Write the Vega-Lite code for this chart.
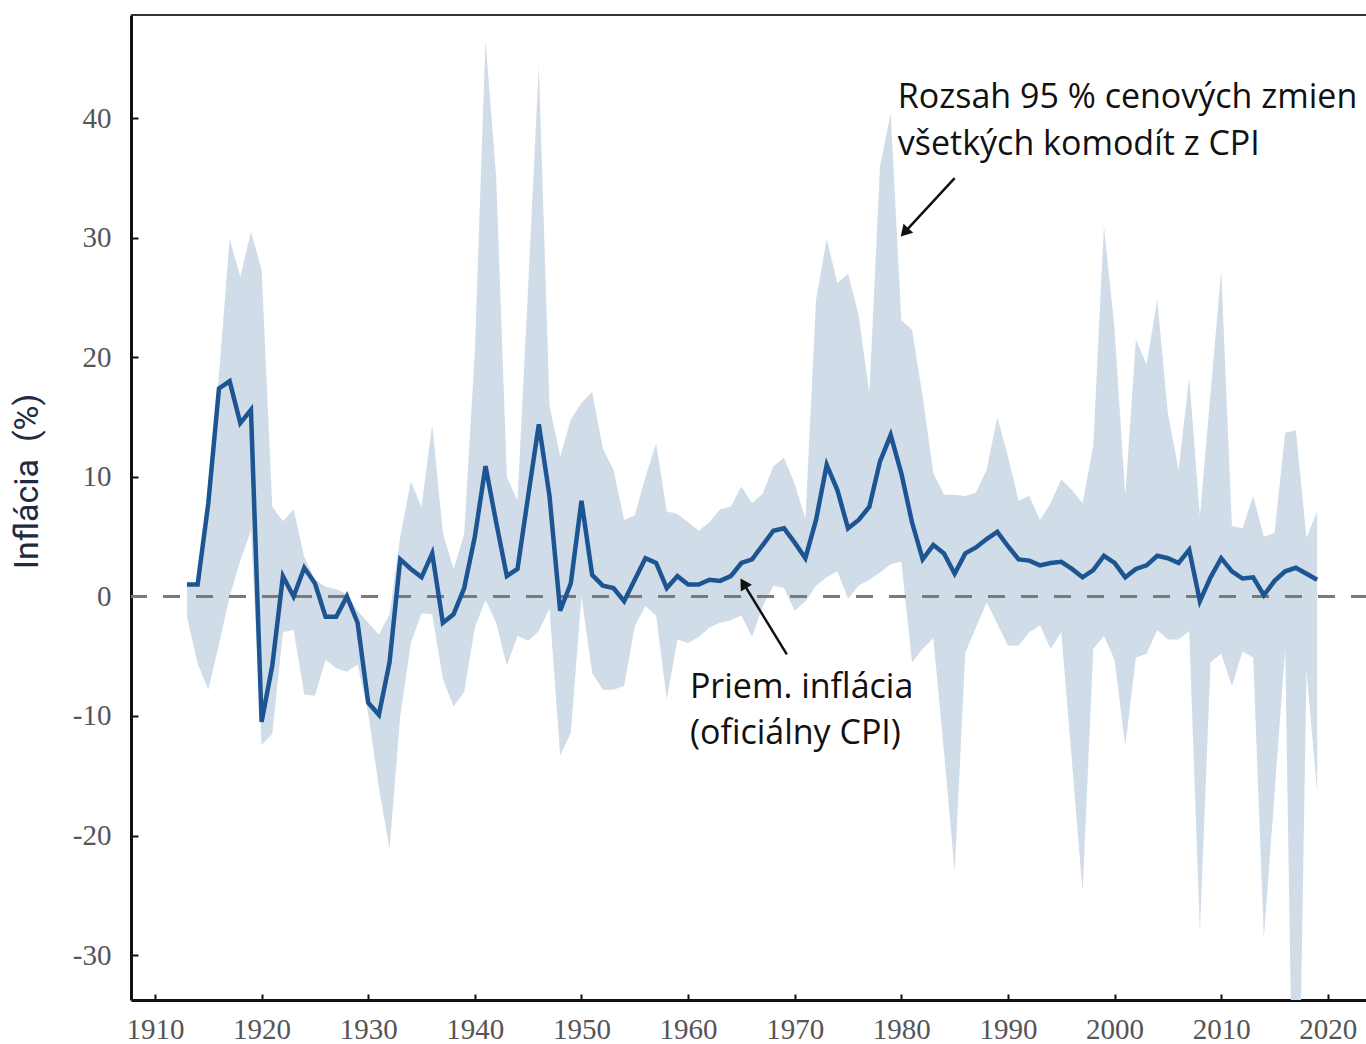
{
  "$schema": "https://vega.github.io/schema/vega-lite/v6.json",
  "width": 1235,
  "height": 985,
  "autosize": {"type": "none"},
  "padding": {"left": 131, "top": 15, "right": 0, "bottom": 44},
  "background": "white",
  "config": {"view": {"stroke": null}},
  "datasets": {
    "series": [
      {"year": 1913, "cpi": 1.0, "lo": -1.7, "hi": 1.0},
      {"year": 1914, "cpi": 1.0, "lo": -5.6, "hi": 1.2},
      {"year": 1915, "cpi": 7.8, "lo": -7.8, "hi": 7.0},
      {"year": 1916, "cpi": 17.4, "lo": -4.0, "hi": 18.5},
      {"year": 1917, "cpi": 18.0, "lo": 0.0, "hi": 29.9},
      {"year": 1918, "cpi": 14.5, "lo": 3.0, "hi": 26.7},
      {"year": 1919, "cpi": 15.6, "lo": 5.5, "hi": 30.5},
      {"year": 1920, "cpi": -10.5, "lo": -12.4, "hi": 27.3},
      {"year": 1921, "cpi": -5.8, "lo": -11.5, "hi": 7.5},
      {"year": 1922, "cpi": 1.7, "lo": -3.0, "hi": 6.3},
      {"year": 1923, "cpi": 0.0, "lo": -2.8, "hi": 7.3},
      {"year": 1924, "cpi": 2.4, "lo": -8.2, "hi": 3.3},
      {"year": 1925, "cpi": 1.1, "lo": -8.3, "hi": 1.4},
      {"year": 1926, "cpi": -1.7, "lo": -5.3, "hi": 0.8},
      {"year": 1927, "cpi": -1.7, "lo": -6.0, "hi": 0.6},
      {"year": 1928, "cpi": 0.0, "lo": -6.3, "hi": 0.2},
      {"year": 1929, "cpi": -2.2, "lo": -5.7, "hi": -1.2},
      {"year": 1930, "cpi": -8.9, "lo": -9.8, "hi": -2.2},
      {"year": 1931, "cpi": -9.9, "lo": -16.0, "hi": -3.2},
      {"year": 1932, "cpi": -5.5, "lo": -21.1, "hi": -1.5},
      {"year": 1933, "cpi": 3.1, "lo": -10.0, "hi": 5.0},
      {"year": 1934, "cpi": 2.3, "lo": -3.9, "hi": 9.6},
      {"year": 1935, "cpi": 1.6, "lo": -1.4, "hi": 7.5},
      {"year": 1936, "cpi": 3.6, "lo": -1.5, "hi": 14.4},
      {"year": 1937, "cpi": -2.2, "lo": -6.9, "hi": 5.3},
      {"year": 1938, "cpi": -1.5, "lo": -9.2, "hi": 2.3},
      {"year": 1939, "cpi": 0.7, "lo": -8.0, "hi": 5.2},
      {"year": 1940, "cpi": 5.0, "lo": -2.6, "hi": 20.5},
      {"year": 1941, "cpi": 10.9, "lo": -0.3, "hi": 46.5},
      {"year": 1942, "cpi": 6.2, "lo": -2.2, "hi": 35.1},
      {"year": 1943, "cpi": 1.7, "lo": -5.8, "hi": 10.0},
      {"year": 1944, "cpi": 2.3, "lo": -3.3, "hi": 8.0},
      {"year": 1945, "cpi": 8.4, "lo": -3.7, "hi": 26.0},
      {"year": 1946, "cpi": 14.4, "lo": -2.9, "hi": 44.4},
      {"year": 1947, "cpi": 8.4, "lo": -1.0, "hi": 16.0},
      {"year": 1948, "cpi": -1.2, "lo": -13.3, "hi": 11.7},
      {"year": 1949, "cpi": 1.1, "lo": -11.4, "hi": 14.8},
      {"year": 1950, "cpi": 8.0, "lo": 0.0, "hi": 16.2},
      {"year": 1951, "cpi": 1.8, "lo": -6.4, "hi": 17.1},
      {"year": 1952, "cpi": 0.9, "lo": -7.8, "hi": 12.4},
      {"year": 1953, "cpi": 0.7, "lo": -7.8, "hi": 10.6},
      {"year": 1954, "cpi": -0.4, "lo": -7.5, "hi": 6.4},
      {"year": 1955, "cpi": 1.4, "lo": -2.5, "hi": 6.8},
      {"year": 1956, "cpi": 3.2, "lo": -0.8, "hi": 10.0},
      {"year": 1957, "cpi": 2.8, "lo": -1.6, "hi": 12.8},
      {"year": 1958, "cpi": 0.7, "lo": -8.6, "hi": 7.1},
      {"year": 1959, "cpi": 1.7, "lo": -3.6, "hi": 6.9},
      {"year": 1960, "cpi": 1.0, "lo": -3.9, "hi": 6.2},
      {"year": 1961, "cpi": 1.0, "lo": -3.4, "hi": 5.5},
      {"year": 1962, "cpi": 1.4, "lo": -2.6, "hi": 6.2},
      {"year": 1963, "cpi": 1.3, "lo": -2.2, "hi": 7.3},
      {"year": 1964, "cpi": 1.7, "lo": -2.0, "hi": 7.5},
      {"year": 1965, "cpi": 2.8, "lo": -1.6, "hi": 9.2},
      {"year": 1966, "cpi": 3.1, "lo": -3.4, "hi": 7.8},
      {"year": 1967, "cpi": 4.3, "lo": -0.8, "hi": 8.6},
      {"year": 1968, "cpi": 5.5, "lo": 0.9, "hi": 10.9},
      {"year": 1969, "cpi": 5.7, "lo": 0.7, "hi": 11.6},
      {"year": 1970, "cpi": 4.5, "lo": -1.2, "hi": 9.4},
      {"year": 1971, "cpi": 3.2, "lo": -0.4, "hi": 6.5},
      {"year": 1972, "cpi": 6.4, "lo": 0.9, "hi": 24.8},
      {"year": 1973, "cpi": 11.0, "lo": 1.6, "hi": 29.9},
      {"year": 1974, "cpi": 8.9, "lo": 2.1, "hi": 26.2},
      {"year": 1975, "cpi": 5.7, "lo": -0.2, "hi": 27.0},
      {"year": 1976, "cpi": 6.4, "lo": 0.9, "hi": 23.5},
      {"year": 1977, "cpi": 7.5, "lo": 1.4, "hi": 17.0},
      {"year": 1978, "cpi": 11.3, "lo": 2.0, "hi": 36.0},
      {"year": 1979, "cpi": 13.5, "lo": 2.7, "hi": 40.4},
      {"year": 1980, "cpi": 10.3, "lo": 2.9, "hi": 23.1},
      {"year": 1981, "cpi": 6.2, "lo": -5.5, "hi": 22.3},
      {"year": 1982, "cpi": 3.1, "lo": -4.4, "hi": 16.7},
      {"year": 1983, "cpi": 4.3, "lo": -3.5, "hi": 10.3},
      {"year": 1984, "cpi": 3.6, "lo": -13.0, "hi": 8.5},
      {"year": 1985, "cpi": 1.9, "lo": -23.0, "hi": 8.5},
      {"year": 1986, "cpi": 3.6, "lo": -4.7, "hi": 8.4},
      {"year": 1987, "cpi": 4.1, "lo": -2.6, "hi": 8.7},
      {"year": 1988, "cpi": 4.8, "lo": -0.5, "hi": 10.6},
      {"year": 1989, "cpi": 5.4, "lo": -2.3, "hi": 15.0},
      {"year": 1990, "cpi": 4.2, "lo": -4.1, "hi": 11.7},
      {"year": 1991, "cpi": 3.1, "lo": -4.1, "hi": 8.0},
      {"year": 1992, "cpi": 3.0, "lo": -3.0, "hi": 8.4},
      {"year": 1993, "cpi": 2.6, "lo": -2.4, "hi": 6.4},
      {"year": 1994, "cpi": 2.8, "lo": -4.4, "hi": 7.8},
      {"year": 1995, "cpi": 2.9, "lo": -3.0, "hi": 9.8},
      {"year": 1996, "cpi": 2.3, "lo": -13.8, "hi": 8.9},
      {"year": 1997, "cpi": 1.6, "lo": -24.7, "hi": 7.8},
      {"year": 1998, "cpi": 2.2, "lo": -4.4, "hi": 12.6},
      {"year": 1999, "cpi": 3.4, "lo": -3.3, "hi": 31.0},
      {"year": 2000, "cpi": 2.8, "lo": -5.3, "hi": 22.3},
      {"year": 2001, "cpi": 1.6, "lo": -12.5, "hi": 8.4},
      {"year": 2002, "cpi": 2.3, "lo": -5.1, "hi": 21.5},
      {"year": 2003, "cpi": 2.6, "lo": -4.8, "hi": 19.4},
      {"year": 2004, "cpi": 3.4, "lo": -2.8, "hi": 24.8},
      {"year": 2005, "cpi": 3.2, "lo": -3.6, "hi": 15.3},
      {"year": 2006, "cpi": 2.8, "lo": -3.6, "hi": 10.6},
      {"year": 2007, "cpi": 3.9, "lo": -2.9, "hi": 18.3},
      {"year": 2008, "cpi": -0.4, "lo": -28.1, "hi": 6.7},
      {"year": 2009, "cpi": 1.6, "lo": -5.5, "hi": 17.0},
      {"year": 2010, "cpi": 3.2, "lo": -4.8, "hi": 27.3},
      {"year": 2011, "cpi": 2.1, "lo": -7.5, "hi": 5.9},
      {"year": 2012, "cpi": 1.5, "lo": -4.6, "hi": 5.7},
      {"year": 2013, "cpi": 1.6, "lo": -5.1, "hi": 8.4},
      {"year": 2014, "cpi": 0.1, "lo": -28.6, "hi": 5.0},
      {"year": 2015, "cpi": 1.3, "lo": -16.5, "hi": 5.3},
      {"year": 2016, "cpi": 2.1, "lo": -4.4, "hi": 13.7},
      {"year": 2017, "cpi": 2.4, "lo": -60.0, "hi": 13.9},
      {"year": 2018, "cpi": 1.9, "lo": -6.2, "hi": 4.9},
      {"year": 2019, "cpi": 1.4, "lo": -16.4, "hi": 7.1}
    ],
    "arrows": [
      {"id": 1, "x1": 1985.0, "y1": 35.0, "x2": 1980.3, "y2": 30.45},
      {"id": 2, "x1": 1969.26, "y1": -4.85, "x2": 1965.19, "y2": 1.09}
    ],
    "notes": [
      {"year": 1979.67, "value": 40.89, "label": "Rozsah 95 % cenových zmien"},
      {"year": 1979.67, "value": 36.96, "label": "všetkých komodít z CPI"},
      {"year": 1960.17, "value": -8.47, "label": "Priem. inflácia"},
      {"year": 1960.17, "value": -12.37, "label": "(oficiálny CPI)"}
    ],
    "refs": [
      {"zero": 0, "top": 48.64}
    ]
  },
  "layer": [
    {
      "data": {"name": "series"},
      "mark": {"type": "area", "color": "#d0dce8", "opacity": 1, "clip": true},
      "encoding": {
        "x": {
          "field": "year", "type": "quantitative",
          "scale": {"domain": [1907.75, 2023.58], "nice": false, "zero": false},
          "axis": {
            "values": [1910, 1920, 1930, 1940, 1950, 1960, 1970, 1980, 1990, 2000, 2010, 2020],
            "format": "d", "title": null, "grid": false,
            "domainColor": "#111", "domainWidth": 3,
            "tickColor": "#111", "tickWidth": 2, "tickSize": -6,
            "labelFont": "Liberation Serif", "labelFontSize": 29, "labelColor": "#555",
            "labelPadding": 21
          }
        },
        "y": {
          "field": "lo", "type": "quantitative",
          "scale": {"domain": [-33.76, 48.64], "nice": false, "zero": false},
          "axis": {
            "values": [-30, -20, -10, 0, 10, 20, 30, 40],
            "labelExpr": "'' + datum.value",
            "grid": false,
            "domainColor": "#111", "domainWidth": 3,
            "tickColor": "#111", "tickWidth": 2, "tickSize": -7,
            "labelFont": "Liberation Serif", "labelFontSize": 29, "labelColor": "#555",
            "labelPadding": 27,
            "title": "Inflácia\u00a0 (%)",
            "titleFont": "Roboto", "titleFontSize": 34, "titleFontWeight": "normal",
            "titleColor": "#1f2b40", "titleAngle": -90,
            "titleAlign": "center", "titleBaseline": "middle",
            "titleX": -104, "titleY": 466
          }
        },
        "y2": {"field": "hi"}
      }
    },
    {
      "data": {"name": "refs"},
      "mark": {"type": "rule", "color": "#7a7a7a", "strokeWidth": 3, "strokeDash": [17, 16], "strokeDashOffset": 2},
      "encoding": {"y": {"field": "zero", "type": "quantitative"}}
    },
    {
      "data": {"name": "refs"},
      "mark": {"type": "rule", "color": "#333", "strokeWidth": 2},
      "encoding": {"y": {"field": "top", "type": "quantitative"}}
    },
    {
      "data": {"name": "series"},
      "mark": {"type": "line", "color": "#1c5592", "strokeWidth": 4.5},
      "encoding": {
        "x": {"field": "year", "type": "quantitative"},
        "y": {"field": "cpi", "type": "quantitative"}
      }
    },
    {
      "data": {"name": "arrows"},
      "mark": {"type": "rule", "color": "#111", "strokeWidth": 2.5},
      "encoding": {
        "x": {"field": "x1", "type": "quantitative"},
        "y": {"field": "y1", "type": "quantitative"},
        "x2": {"field": "x2"},
        "y2": {"field": "y2"}
      }
    },
    {
      "data": {"name": "arrows"},
      "transform": [{"filter": "datum.id == 1"}],
      "mark": {"type": "point", "shape": "triangle-up", "filled": true, "color": "#111", "opacity": 1, "size": 170, "angle": 222.5},
      "encoding": {
        "x": {"field": "x2", "type": "quantitative"},
        "y": {"field": "y2", "type": "quantitative"}
      }
    },
    {
      "data": {"name": "arrows"},
      "transform": [{"filter": "datum.id == 2"}],
      "mark": {"type": "point", "shape": "triangle-up", "filled": true, "color": "#111", "opacity": 1, "size": 170, "angle": 328.6},
      "encoding": {
        "x": {"field": "x2", "type": "quantitative"},
        "y": {"field": "y2", "type": "quantitative"}
      }
    },
    {
      "data": {"name": "notes"},
      "mark": {"type": "text", "align": "left", "baseline": "alphabetic", "font": "Open Sans", "fontSize": 34, "color": "#111"},
      "encoding": {
        "x": {"field": "year", "type": "quantitative"},
        "y": {"field": "value", "type": "quantitative"},
        "text": {"field": "label"}
      }
    }
  ]
}
